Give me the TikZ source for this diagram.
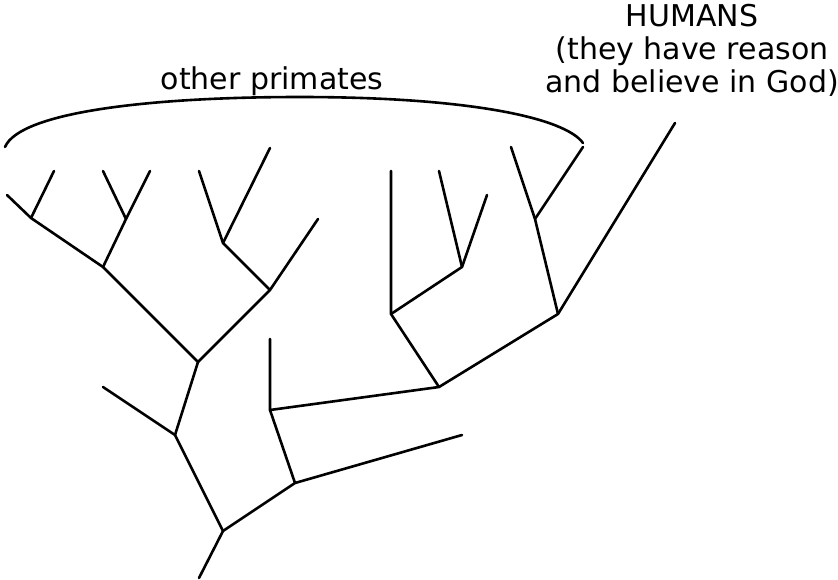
\documentclass[tikz,border=0pt]{standalone}
\usepackage{fontspec}
\setmainfont{DejaVu Sans}
\begin{document}
\begin{tikzpicture}[x=1pt,y=-1pt,
  branch/.style={line width=2.6pt,line cap=round,line join=round},
  lbl/.style={inner sep=0pt,font=\fontsize{30}{33}\selectfont}]
\useasboundingbox (0,0) rectangle (838,579);
% coordinates
\coordinate (r0) at (199,578);
\coordinate (c3) at (223,531);
\coordinate (d1) at (175,435);
\coordinate (d1L) at (103,387);
\coordinate (a4) at (198,362);
\coordinate (a2) at (103,267);
\coordinate (a1) at (31,218);
\coordinate (a1L) at (7,195);
\coordinate (a1R) at (54,171);
\coordinate (a3) at (126,219);
\coordinate (a3L) at (103,171);
\coordinate (a3R) at (150,171);
\coordinate (a5) at (270,290);
\coordinate (a6) at (223,243);
\coordinate (a6L) at (199,171);
\coordinate (a6R) at (270,148);
\coordinate (a5R) at (318,219);
\coordinate (c2) at (295,483);
\coordinate (c2R) at (462,435);
\coordinate (c1) at (270,410);
\coordinate (c1T) at (270,339);
\coordinate (b3) at (439,387);
\coordinate (b1) at (391,314);
\coordinate (b1T) at (391,171);
\coordinate (b2) at (462,267);
\coordinate (b2L) at (439,171);
\coordinate (b2R) at (487,195);
\coordinate (b4) at (558,314);
\coordinate (b5) at (535,219);
\coordinate (b5L) at (511,147);
\coordinate (b5R) at (583,147);
\coordinate (hum) at (675,123);
\coordinate (brL) at (5,147);
\coordinate (brR) at (583,143);
% tree
\draw[branch] (r0) -- (c3) -- (d1) -- (d1L);
\draw[branch] (d1) -- (a4) -- (a2) -- (a1) -- (a1L);
\draw[branch] (a1) -- (a1R);
\draw[branch] (a2) -- (a3) -- (a3L);
\draw[branch] (a3) -- (a3R);
\draw[branch] (a4) -- (a5) -- (a6) -- (a6L);
\draw[branch] (a6) -- (a6R);
\draw[branch] (a5) -- (a5R);
\draw[branch] (c3) -- (c2) -- (c2R);
\draw[branch] (c2) -- (c1) -- (c1T);
\draw[branch] (c1) -- (b3) -- (b1) -- (b1T);
\draw[branch] (b1) -- (b2) -- (b2L);
\draw[branch] (b2) -- (b2R);
\draw[branch] (b3) -- (b4) -- (b5) -- (b5L);
\draw[branch] (b5) -- (b5R);
\draw[branch] (b4) -- (hum);
% brace
\draw[branch] (brL) .. controls (20,112) and (150,97) .. (300,97)
  .. controls (470,97) and (565,118) .. (brR);
% labels
\node[lbl,anchor=base] (prim) at (272,89) {other primates};
\node[lbl,anchor=base,align=center] (humans) at (692,92) {HUMANS\\(they have reason\\and believe in God)};
\end{tikzpicture}
\end{document}
